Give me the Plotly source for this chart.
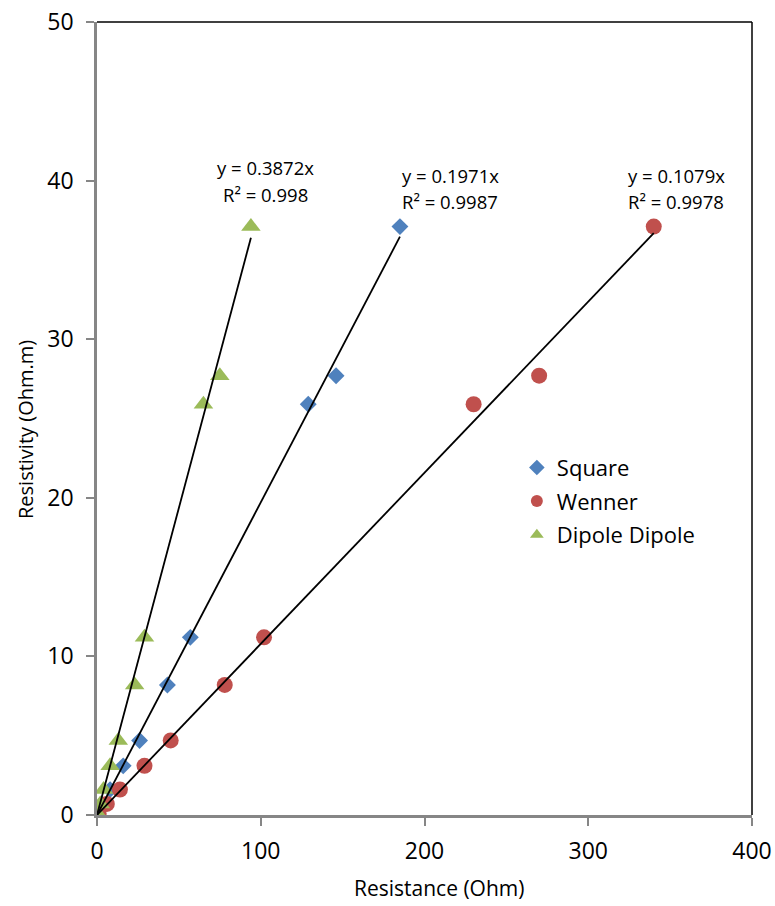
import plotly.graph_objects as go

# Data
sq_x = [0.5, 3, 8, 16, 26, 43, 57, 129, 146, 185]
sq_y = [0.1, 0.7, 1.6, 3.1, 4.7, 8.2, 11.2, 25.9, 27.7, 37.1]
wn_x = [1, 6, 14, 29, 45, 78, 102, 230, 270, 340]
wn_y = [0.1, 0.7, 1.6, 3.1, 4.7, 8.2, 11.2, 25.9, 27.7, 37.1]
dd_x = [0.3, 2, 4, 8, 13, 23, 29, 65, 75, 94]
dd_y = [0.1, 0.7, 1.6, 3.1, 4.7, 8.2, 11.2, 25.9, 27.7, 37.1]

slopes = {"Square": 0.1971, "Wenner": 0.1079, "Dipole Dipole": 0.3872}
r2 = {"Square": 0.9987, "Wenner": 0.9978, "Dipole Dipole": 0.998}
# (x, y of first line, y of second line) in data units
label_pos = {"Dipole Dipole": (102.6, 40.8, 39.15),
             "Square": (215.6, 40.35, 38.7),
             "Wenner": (353.6, 40.35, 38.7)}

x_ticks = [0, 100, 200, 300, 400]
y_ticks = [0, 10, 20, 30, 40, 50]

colors = {"Square": "#4F81BD", "Wenner": "#C0504D", "Dipole Dipole": "#9BBB59"}
symbols = {"Square": "diamond", "Wenner": "circle", "Dipole Dipole": "triangle-up"}
sizes = {"Square": 13, "Wenner": 16, "Dipole Dipole": 17}
series = {"Square": (sq_x, sq_y), "Wenner": (wn_x, wn_y), "Dipole Dipole": (dd_x, dd_y)}

font = "Open Sans"
fig = go.Figure()

for name, (xs, ys) in series.items():
    fig.add_trace(go.Scatter(
        x=xs, y=ys, mode="markers", name=name, legendgroup=name,
        marker=dict(symbol=symbols[name], color=colors[name], size=sizes[name], line=dict(width=0)),
    ))

for name, (xs, ys) in series.items():
    m = slopes[name]
    fig.add_trace(go.Scatter(
        x=[0, max(xs)], y=[0, m * max(xs)], mode="lines",
        line=dict(color="black", width=1.8), showlegend=False, hoverinfo="skip",
    ))
    lx, ly1, ly2 = label_pos[name]
    fig.add_annotation(x=lx, y=ly1, xref="x", yref="y", showarrow=False,
                       text=f"y = {m}x", font=dict(family=font, size=18.5, color="black"))
    fig.add_annotation(x=lx, y=ly2, xref="x", yref="y", showarrow=False,
                       text=f"R² = {r2[name]}", font=dict(family=font, size=18.5, color="black"))

W, H = 775, 906
L, R, T, B = 97, 23, 22, 91
pw, ph = W - L - R, H - T - B

# axis titles, placed where the reference has them (pixel centre -> paper coords)
fig.add_annotation(x=(439 - L) / pw, y=(H - B - 888) / ph, xref="paper", yref="paper",
                   xanchor="center", yanchor="middle", showarrow=False,
                   text="Resistance (Ohm)", font=dict(family=font, size=21, color="black"))
fig.add_annotation(x=(25 - L) / pw, y=(H - B - 430) / ph, xref="paper", yref="paper",
                   xanchor="center", yanchor="middle", showarrow=False, textangle=-90,
                   text="Resistivity (Ohm.m)", font=dict(family=font, size=20, color="black"))

fig.update_layout(
    width=W, height=H,
    margin=dict(l=L, r=R, t=T, b=B),
    paper_bgcolor="white", plot_bgcolor="white",
    font=dict(family=font, color="black"),
    legend=dict(x=0.641, y=0.4645, xanchor="left", yanchor="top",
                font=dict(family=font, size=22), bgcolor="rgba(0,0,0,0)",
                itemsizing="constant", tracegroupgap=2),
    xaxis=dict(range=[0, 400], tickvals=x_ticks, showgrid=False, zeroline=False,
               showline=True, linecolor="#868686", linewidth=2.5, automargin=False,
               ticks="outside", ticklen=8, tickcolor="#868686", tickwidth=1.5,
               ticklabelstandoff=6, ticklabeloverflow="allow",
               tickfont=dict(family=font, size=23)),
    yaxis=dict(range=[0, 50], tickvals=y_ticks, showgrid=False, zeroline=False,
               showline=True, linecolor="#868686", linewidth=2.5, automargin=False,
               ticks="outside", ticklen=8, tickcolor="#868686", tickwidth=1.5,
               ticklabelstandoff=8, ticklabeloverflow="allow",
               tickfont=dict(family=font, size=23)),
)

fig.add_shape(type="line", xref="paper", yref="paper", x0=0, x1=1, y0=1, y1=1,
              line=dict(color="black", width=1.5))
fig.add_shape(type="line", xref="paper", yref="paper", x0=1, x1=1, y0=0, y1=1,
              line=dict(color="black", width=1.5))

fig.write_html("out.html", config={"displayModeBar": False},
               post_script="document.body.style.margin='0px';")
